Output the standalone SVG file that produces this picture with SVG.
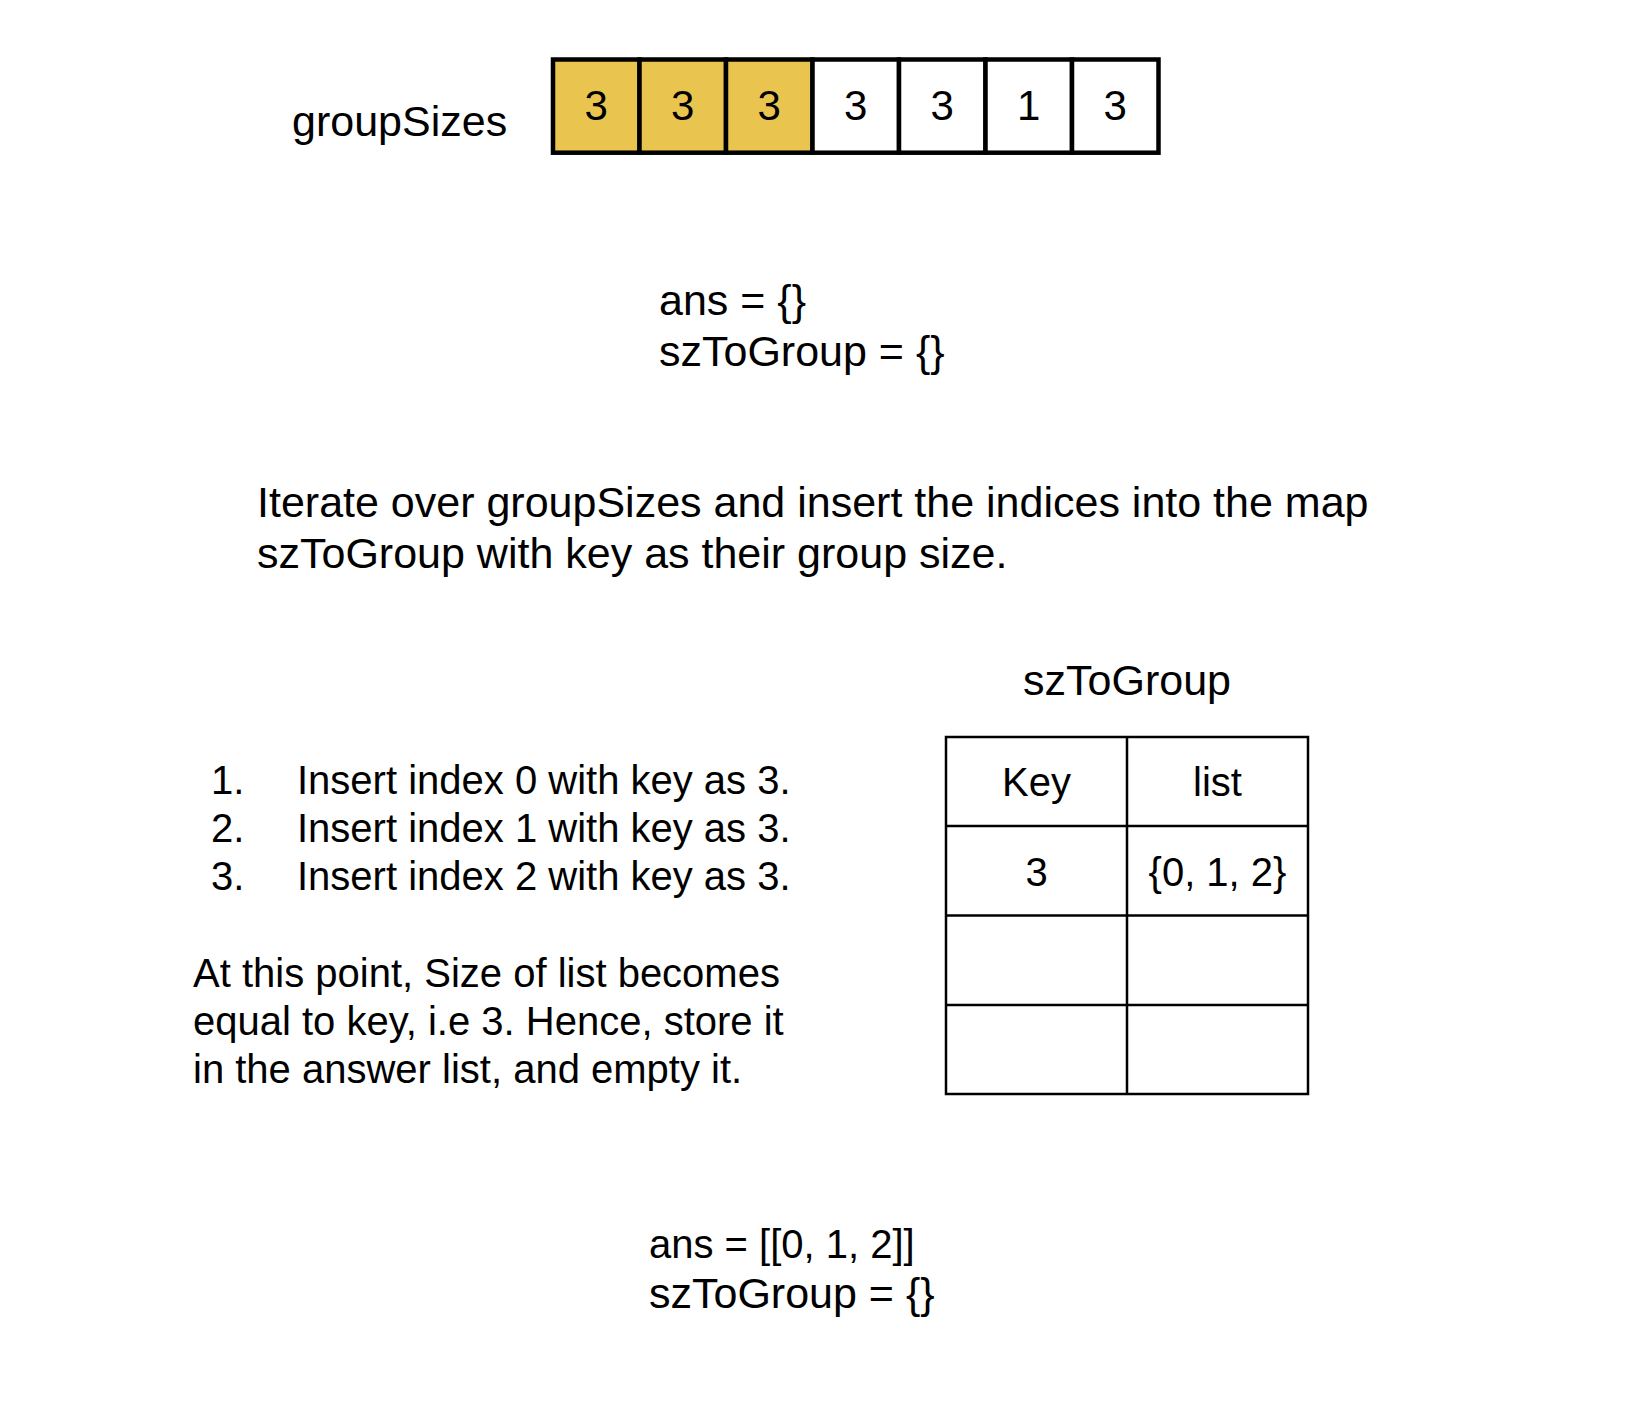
<svg xmlns="http://www.w3.org/2000/svg" width="1630" height="1426" viewBox="0 0 1630 1426">
<style>
text{font-family:"Liberation Sans",Arial,sans-serif;font-size:42px;fill:#000}
.c{text-anchor:middle}
.l{font-size:43px}
.s{font-size:40px}
.cell{stroke:#000;stroke-width:4.5}
.y{fill:#E9C550}
.w{fill:#fff}
.tb{fill:none;stroke:#000;stroke-width:2.5}
</style>
<rect x="0" y="0" width="1630" height="1426" fill="#fff"/>
<g id="label-groupSizes"><text class="l" x="292" y="136">groupSizes</text></g>
<g id="array">
<rect class="cell y" x="553" y="59.5" width="86.5" height="93.2"/>
<rect class="cell y" x="639.5" y="59.5" width="86.5" height="93.2"/>
<rect class="cell y" x="726" y="59.5" width="86.5" height="93.2"/>
<rect class="cell w" x="812.5" y="59.5" width="86.5" height="93.2"/>
<rect class="cell w" x="899" y="59.5" width="86.5" height="93.2"/>
<rect class="cell w" x="985.5" y="59.5" width="86.5" height="93.2"/>
<rect class="cell w" x="1072" y="59.5" width="86.5" height="93.2"/>
<text class="c" x="596.25" y="120">3</text>
<text class="c" x="682.75" y="120">3</text>
<text class="c" x="769.25" y="120">3</text>
<text class="c" x="855.75" y="120">3</text>
<text class="c" x="942.25" y="120">3</text>
<text class="c" x="1028.75" y="120">1</text>
<text class="c" x="1115.25" y="120">3</text>
</g>
<g id="init">
<text class="l" x="659" y="315">ans = {}</text>
<text class="l" x="659" y="366">szToGroup = {}</text>
</g>
<g id="desc">
<text class="l" x="257" y="517">Iterate over groupSizes and insert the indices into the map</text>
<text class="l" x="257" y="568">szToGroup with key as their group size.</text>
</g>
<g id="steps">
<text class="s" x="211" y="794">1.</text>
<text class="s" x="297" y="794">Insert index 0 with key as 3.</text>
<text class="s" x="211" y="842">2.</text>
<text class="s" x="297" y="842">Insert index 1 with key as 3.</text>
<text class="s" x="211" y="890">3.</text>
<text class="s" x="297" y="890">Insert index 2 with key as 3.</text>
</g>
<g id="note">
<text class="s" x="193" y="987">At this point, Size of list becomes</text>
<text class="s" x="193" y="1035">equal to key, i.e 3. Hence, store it</text>
<text class="s" x="193" y="1083">in the answer list, and empty it.</text>
</g>
<g id="table">
<text class="c l" x="1127" y="695">szToGroup</text>
<rect class="tb" x="946" y="737" width="362" height="357"/>
<line class="tb" x1="1127" y1="737" x2="1127" y2="1094"/>
<line class="tb" x1="946" y1="826" x2="1308" y2="826"/>
<line class="tb" x1="946" y1="915.5" x2="1308" y2="915.5"/>
<line class="tb" x1="946" y1="1005" x2="1308" y2="1005"/>
<text class="c s" x="1036.5" y="796">Key</text>
<text class="c s" x="1217.5" y="796">list</text>
<text class="c s" x="1036.5" y="886">3</text>
<text class="c s" x="1217.5" y="886">{0, 1, 2}</text>
</g>
<g id="result">
<text class="s" x="649" y="1258">ans = [[0, 1, 2]]</text>
<text class="l" x="649" y="1308">szToGroup = {}</text>
</g>
</svg>
